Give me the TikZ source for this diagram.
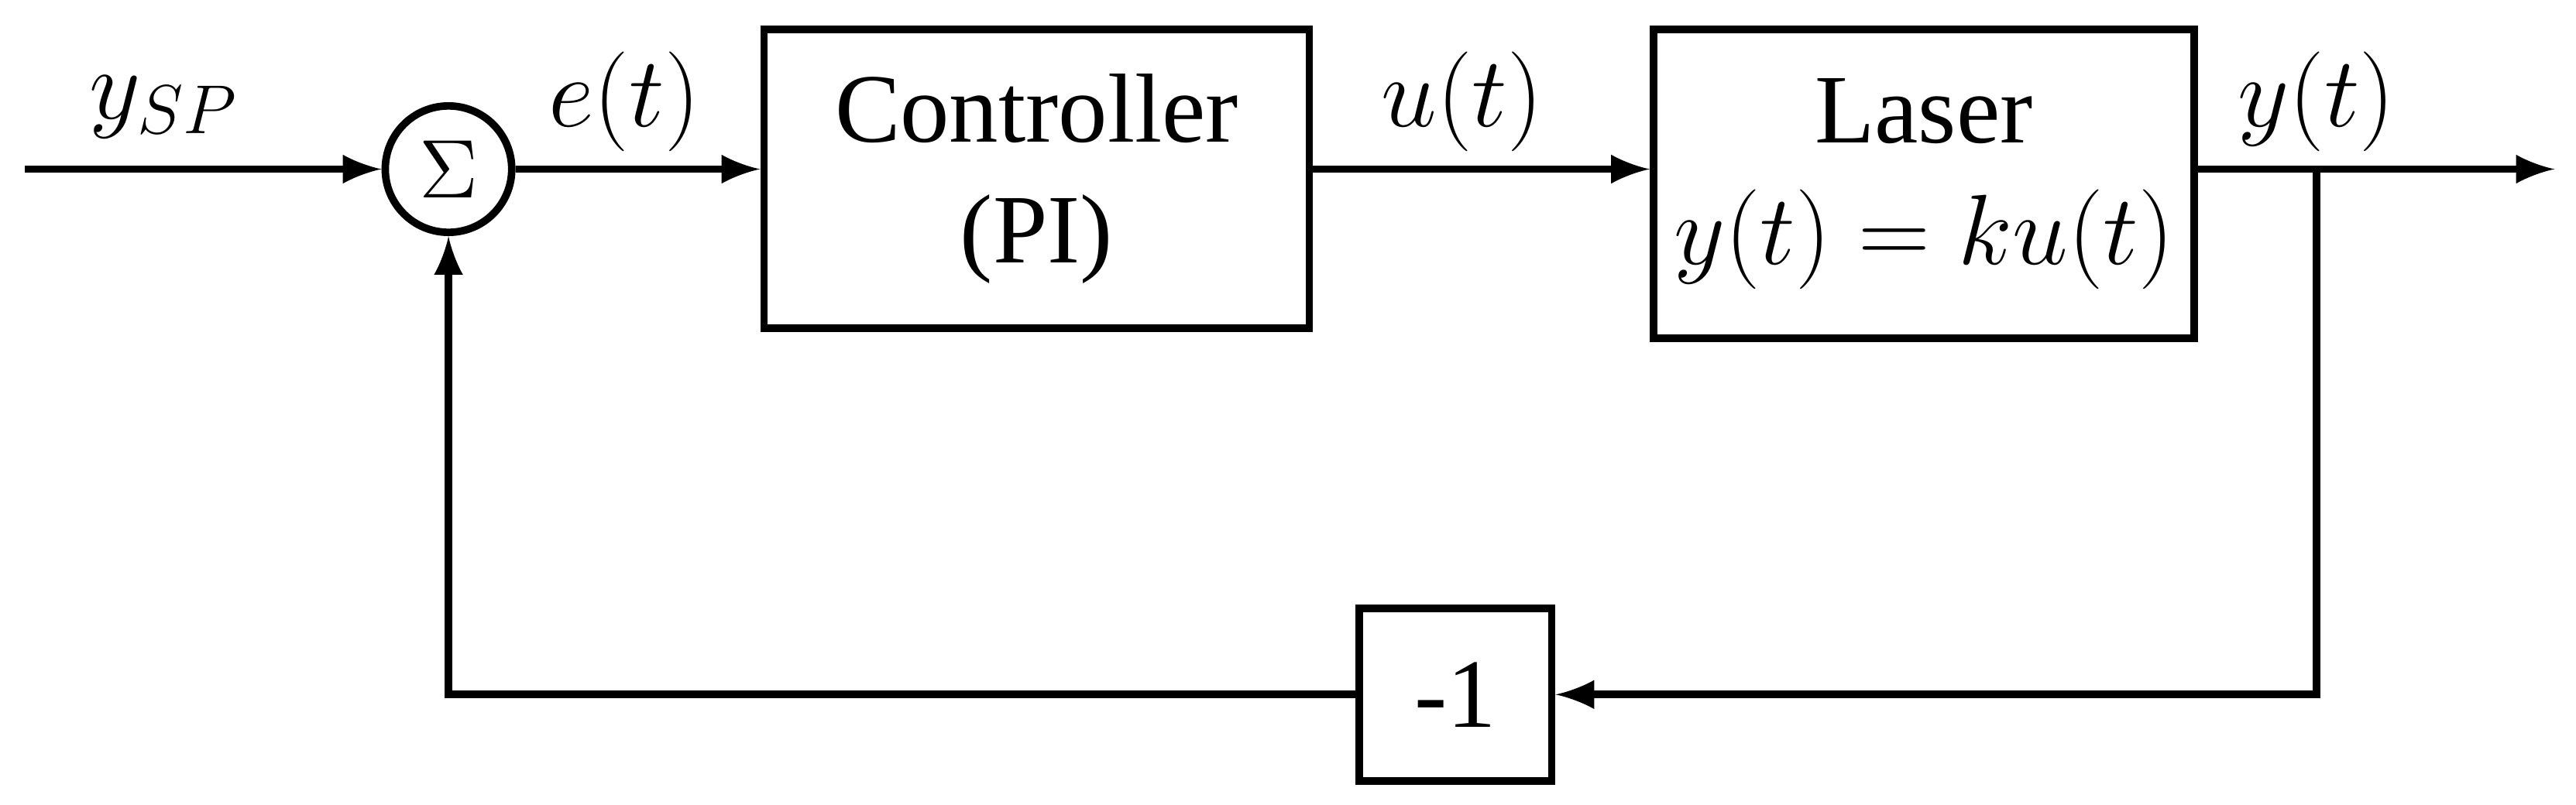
\documentclass[tikz,border=0pt]{standalone}
\usepackage{fontspec}
\setmainfont{Liberation Serif}
\usepackage{tikz}
\usetikzlibrary{arrows,positioning}

\begin{document}
\begin{tikzpicture}[->,>=latex,line width=1.3pt,auto]
	\tikzstyle{block} = [rectangle,draw,align=center,font=\fontsize{17}{21}\selectfont]
	\tikzstyle{lbl} = [font=\fontsize{17}{21}\selectfont\itshape]
	\useasboundingbox (0,0) rectangle (15.68,-4.90);
	\coordinate			(in)	at (0.15,-1.03);
	\node[circle,draw,minimum size=0.77cm,inner sep=0pt,font=\fontsize{15}{18}\selectfont]	(sum)	at (2.73,-1.03)	{$\Sigma$};
	\node[block,minimum width=3.32cm,minimum height=1.82cm]	(ctrl)	at (6.31,-1.09)	{Controller\\(PI)};
	\node[block,minimum width=3.29cm,minimum height=1.88cm]	(laser)	at (11.71,-1.12)	{Laser\\$y(t)=ku(t)$};
	\node[block,minimum width=1.17cm,minimum height=1.05cm]	(neg)	at (8.86,-4.23)	{-1};
	\coordinate			(out)	at (15.55,-1.03);
	\coordinate			(br)	at (14.10,-1.03);
	\coordinate			(dn)	at (14.10,-4.23);
	\coordinate			(lf)	at (2.73,-4.23);
	\draw (in) -- (sum);
	\draw (sum) -- (sum -| ctrl.west);
	\draw (ctrl.east |- sum) -- (sum -| laser.west);
	\draw (laser.east |- sum) -- (out);
	\draw (br) -- (dn) -- (neg);
	\draw (neg) -- (lf) -- (sum);
	\node[lbl]	at (1.00,-0.65)	{$y_{SP}$};
	\node[lbl]	at (3.80,-0.62)	{$e(t)$};
	\node[lbl]	at (8.90,-0.62)	{$u(t)$};
	\node[lbl]	at (14.10,-0.62)	{$y(t)$};
\end{tikzpicture}
\end{document}
